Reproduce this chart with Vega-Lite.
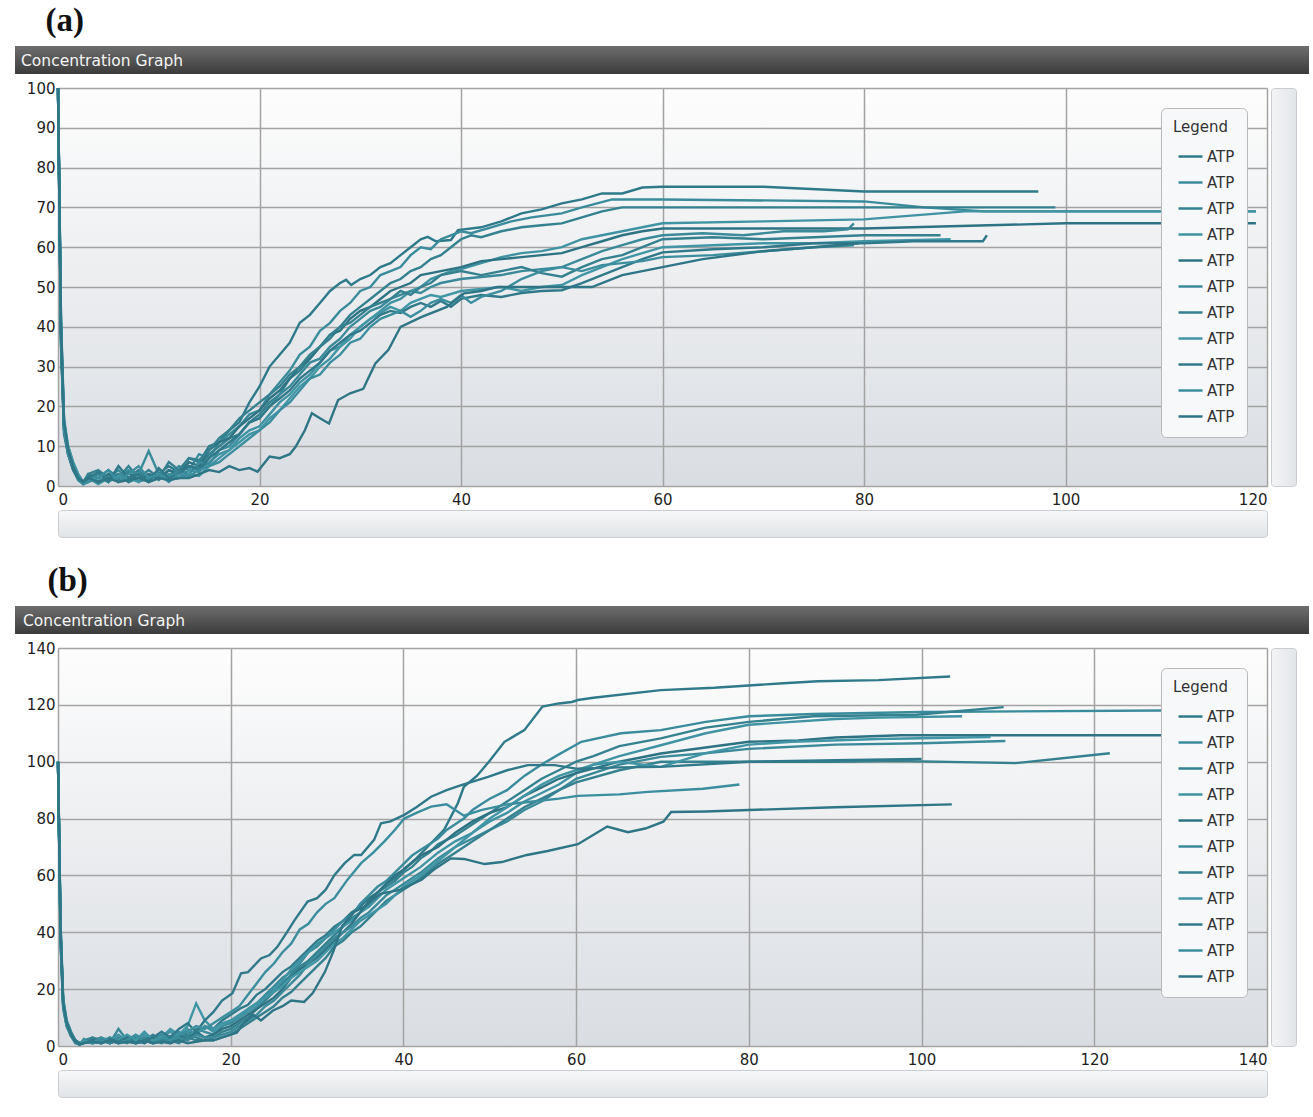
{
"$schema": "https://vega.github.io/schema/vega-lite/v6.json",
"background": "white",
"padding": {"left": 14, "top": 5, "right": 5, "bottom": 5},
"config": {
  "font": "DejaVu Sans",
  "view": {"stroke": null},
  "axis": {"labelFont": "DejaVu Sans", "labelFontSize": 15, "labelColor": "#1e1e1e", "gridColor": "#a3a3a3", "gridWidth": 1.5, "gridOpacity": 1, "domain": false, "ticks": false, "tickSize": 0},
  "axisX": {"labelPadding": 6},
  "axisY": {"labelPadding": 3, "minExtent": 43, "maxExtent": 43}
},
"datasets": {
"a": [
{"s":"a01","t":0,"v":100},{"s":"a01","t":0.3,"v":38},{"s":"a01","t":0.6,"v":15},{"s":"a01","t":1,"v":9},{"s":"a01","t":1.5,"v":5},{"s":"a01","t":2,"v":2},{"s":"a01","t":2.5,"v":0.5},{"s":"a01","t":3,"v":2},{"s":"a01","t":4,"v":1},{"s":"a01","t":5,"v":3},{"s":"a01","t":6,"v":1.5},{"s":"a01","t":7,"v":2},{"s":"a01","t":8,"v":4},{"s":"a01","t":9,"v":1.5},{"s":"a01","t":10,"v":3},{"s":"a01","t":11,"v":5},{"s":"a01","t":12,"v":3.5},{"s":"a01","t":13,"v":7},{"s":"a01","t":14,"v":6},{"s":"a01","t":15,"v":10},{"s":"a01","t":16,"v":11},{"s":"a01","t":17,"v":14},{"s":"a01","t":18,"v":16},{"s":"a01","t":19,"v":21},{"s":"a01","t":20,"v":25},{"s":"a01","t":21,"v":30},{"s":"a01","t":22,"v":33},{"s":"a01","t":23,"v":36},{"s":"a01","t":24,"v":41},{"s":"a01","t":25,"v":43},{"s":"a01","t":26,"v":46},{"s":"a01","t":27,"v":49},{"s":"a01","t":28,"v":51},{"s":"a01","t":28.6,"v":51.8},{"s":"a01","t":29.1,"v":50.5},{"s":"a01","t":30,"v":52},{"s":"a01","t":31,"v":53},{"s":"a01","t":32,"v":55},{"s":"a01","t":33,"v":56},{"s":"a01","t":34,"v":58},{"s":"a01","t":35,"v":60},{"s":"a01","t":36,"v":62},{"s":"a01","t":36.7,"v":62.6},{"s":"a01","t":37.5,"v":61.5},{"s":"a01","t":39,"v":61.8},{"s":"a01","t":39.7,"v":64.3},{"s":"a01","t":42,"v":65},{"s":"a01","t":44,"v":66.5},{"s":"a01","t":46,"v":68.5},{"s":"a01","t":48,"v":69.5},{"s":"a01","t":50,"v":71},{"s":"a01","t":52,"v":72},{"s":"a01","t":54,"v":73.5},{"s":"a01","t":56,"v":73.5},{"s":"a01","t":58,"v":75},{"s":"a01","t":60,"v":75.2},{"s":"a01","t":70,"v":75.2},{"s":"a01","t":80,"v":74},{"s":"a01","t":97.3,"v":74},
{"s":"a02","t":0,"v":100},{"s":"a02","t":0.3,"v":42},{"s":"a02","t":0.6,"v":17},{"s":"a02","t":1,"v":10},{"s":"a02","t":1.5,"v":6},{"s":"a02","t":2,"v":3},{"s":"a02","t":2.5,"v":1},{"s":"a02","t":3,"v":1.5},{"s":"a02","t":4,"v":3},{"s":"a02","t":5,"v":2},{"s":"a02","t":6,"v":4},{"s":"a02","t":7,"v":1.5},{"s":"a02","t":8,"v":3},{"s":"a02","t":9,"v":2},{"s":"a02","t":10,"v":4},{"s":"a02","t":11,"v":2.5},{"s":"a02","t":12,"v":5},{"s":"a02","t":13,"v":4},{"s":"a02","t":14,"v":8},{"s":"a02","t":15,"v":7},{"s":"a02","t":16,"v":11},{"s":"a02","t":17,"v":13},{"s":"a02","t":18,"v":15},{"s":"a02","t":19,"v":18},{"s":"a02","t":20,"v":19},{"s":"a02","t":21,"v":23},{"s":"a02","t":22,"v":26},{"s":"a02","t":23,"v":29},{"s":"a02","t":24,"v":33},{"s":"a02","t":25,"v":35},{"s":"a02","t":26,"v":39},{"s":"a02","t":27,"v":41},{"s":"a02","t":28,"v":44},{"s":"a02","t":29,"v":46},{"s":"a02","t":30,"v":49},{"s":"a02","t":31,"v":50},{"s":"a02","t":32,"v":53},{"s":"a02","t":33,"v":54},{"s":"a02","t":34,"v":55},{"s":"a02","t":35,"v":58},{"s":"a02","t":36,"v":60},{"s":"a02","t":37,"v":59.5},{"s":"a02","t":38,"v":62},{"s":"a02","t":39,"v":63},{"s":"a02","t":40,"v":64},{"s":"a02","t":41,"v":63.5},{"s":"a02","t":43,"v":65},{"s":"a02","t":45,"v":66.5},{"s":"a02","t":47,"v":67.5},{"s":"a02","t":50,"v":68.5},{"s":"a02","t":52,"v":70},{"s":"a02","t":55,"v":72},{"s":"a02","t":60,"v":72},{"s":"a02","t":80,"v":71.5},{"s":"a02","t":86,"v":70},{"s":"a02","t":92,"v":69},{"s":"a02","t":118.9,"v":69},
{"s":"a03","t":0,"v":100},{"s":"a03","t":0.3,"v":36},{"s":"a03","t":0.6,"v":14},{"s":"a03","t":1,"v":8},{"s":"a03","t":1.5,"v":4},{"s":"a03","t":2,"v":1.5},{"s":"a03","t":2.5,"v":0.5},{"s":"a03","t":3,"v":3},{"s":"a03","t":4,"v":2},{"s":"a03","t":5,"v":4},{"s":"a03","t":6,"v":2},{"s":"a03","t":7,"v":5},{"s":"a03","t":8,"v":2},{"s":"a03","t":9,"v":3},{"s":"a03","t":10,"v":1.5},{"s":"a03","t":11,"v":4},{"s":"a03","t":12,"v":3},{"s":"a03","t":13,"v":5},{"s":"a03","t":14,"v":4.5},{"s":"a03","t":15,"v":8},{"s":"a03","t":16,"v":10},{"s":"a03","t":17,"v":12},{"s":"a03","t":18,"v":13},{"s":"a03","t":19,"v":16},{"s":"a03","t":20,"v":18},{"s":"a03","t":21,"v":21},{"s":"a03","t":22,"v":23},{"s":"a03","t":23,"v":27},{"s":"a03","t":24,"v":29},{"s":"a03","t":25,"v":32},{"s":"a03","t":26,"v":35},{"s":"a03","t":27,"v":37},{"s":"a03","t":28,"v":40},{"s":"a03","t":29,"v":43},{"s":"a03","t":30,"v":45},{"s":"a03","t":31,"v":47},{"s":"a03","t":32,"v":49},{"s":"a03","t":33,"v":51},{"s":"a03","t":34,"v":52},{"s":"a03","t":35,"v":54},{"s":"a03","t":36,"v":55},{"s":"a03","t":37,"v":57},{"s":"a03","t":38,"v":58},{"s":"a03","t":39,"v":60},{"s":"a03","t":40,"v":62},{"s":"a03","t":41,"v":63},{"s":"a03","t":42,"v":62.5},{"s":"a03","t":44,"v":64},{"s":"a03","t":46,"v":65},{"s":"a03","t":48,"v":65.5},{"s":"a03","t":50,"v":66},{"s":"a03","t":52,"v":67.5},{"s":"a03","t":54,"v":69},{"s":"a03","t":56,"v":70},{"s":"a03","t":99,"v":70},
{"s":"a04","t":0,"v":100},{"s":"a04","t":0.3,"v":40},{"s":"a04","t":0.6,"v":16},{"s":"a04","t":1,"v":9},{"s":"a04","t":1.5,"v":5},{"s":"a04","t":2,"v":2},{"s":"a04","t":2.5,"v":1},{"s":"a04","t":3,"v":2},{"s":"a04","t":4,"v":0.5},{"s":"a04","t":5,"v":2},{"s":"a04","t":6,"v":3},{"s":"a04","t":7,"v":1},{"s":"a04","t":8,"v":2.5},{"s":"a04","t":9,"v":1},{"s":"a04","t":10,"v":2},{"s":"a04","t":11,"v":3},{"s":"a04","t":12,"v":2},{"s":"a04","t":13,"v":4},{"s":"a04","t":14,"v":3.5},{"s":"a04","t":15,"v":6},{"s":"a04","t":16,"v":8},{"s":"a04","t":17,"v":9},{"s":"a04","t":18,"v":12},{"s":"a04","t":19,"v":14},{"s":"a04","t":20,"v":15},{"s":"a04","t":21,"v":18},{"s":"a04","t":22,"v":21},{"s":"a04","t":23,"v":23},{"s":"a04","t":24,"v":26},{"s":"a04","t":25,"v":28},{"s":"a04","t":26,"v":31},{"s":"a04","t":27,"v":34},{"s":"a04","t":28,"v":35},{"s":"a04","t":29,"v":38},{"s":"a04","t":30,"v":40},{"s":"a04","t":31,"v":42},{"s":"a04","t":32,"v":44},{"s":"a04","t":33,"v":46},{"s":"a04","t":34,"v":47},{"s":"a04","t":35,"v":49},{"s":"a04","t":36,"v":50},{"s":"a04","t":37,"v":52},{"s":"a04","t":38,"v":53},{"s":"a04","t":39,"v":54},{"s":"a04","t":40,"v":54.5},{"s":"a04","t":42,"v":56},{"s":"a04","t":44,"v":57.5},{"s":"a04","t":46,"v":58.5},{"s":"a04","t":48,"v":59},{"s":"a04","t":50,"v":60},{"s":"a04","t":52,"v":62},{"s":"a04","t":54,"v":63},{"s":"a04","t":56,"v":64},{"s":"a04","t":58,"v":65},{"s":"a04","t":60,"v":66},{"s":"a04","t":70,"v":66.5},{"s":"a04","t":80,"v":67},{"s":"a04","t":85,"v":68},{"s":"a04","t":90,"v":69},{"s":"a04","t":118.9,"v":69},
{"s":"a05","t":0,"v":100},{"s":"a05","t":0.3,"v":35},{"s":"a05","t":0.6,"v":13},{"s":"a05","t":1,"v":8},{"s":"a05","t":1.5,"v":4},{"s":"a05","t":2,"v":2},{"s":"a05","t":2.5,"v":1},{"s":"a05","t":3,"v":2.5},{"s":"a05","t":4,"v":1},{"s":"a05","t":5,"v":3},{"s":"a05","t":6,"v":2},{"s":"a05","t":7,"v":3.5},{"s":"a05","t":8,"v":1},{"s":"a05","t":9,"v":3},{"s":"a05","t":10,"v":2},{"s":"a05","t":11,"v":4},{"s":"a05","t":12,"v":3},{"s":"a05","t":13,"v":6},{"s":"a05","t":14,"v":5},{"s":"a05","t":15,"v":9},{"s":"a05","t":16,"v":11},{"s":"a05","t":17,"v":12},{"s":"a05","t":18,"v":15},{"s":"a05","t":19,"v":17},{"s":"a05","t":20,"v":19},{"s":"a05","t":21,"v":22},{"s":"a05","t":22,"v":24},{"s":"a05","t":23,"v":27},{"s":"a05","t":24,"v":30},{"s":"a05","t":25,"v":32},{"s":"a05","t":26,"v":35},{"s":"a05","t":27,"v":38},{"s":"a05","t":28,"v":39},{"s":"a05","t":29,"v":42},{"s":"a05","t":30,"v":44},{"s":"a05","t":31,"v":45},{"s":"a05","t":32,"v":47},{"s":"a05","t":33,"v":49},{"s":"a05","t":34,"v":50},{"s":"a05","t":35,"v":51},{"s":"a05","t":36,"v":53},{"s":"a05","t":37,"v":53.5},{"s":"a05","t":38,"v":54},{"s":"a05","t":40,"v":55},{"s":"a05","t":42,"v":56.5},{"s":"a05","t":44,"v":57},{"s":"a05","t":46,"v":57.5},{"s":"a05","t":48,"v":58},{"s":"a05","t":50,"v":58.5},{"s":"a05","t":52,"v":60},{"s":"a05","t":54,"v":61.5},{"s":"a05","t":56,"v":63},{"s":"a05","t":58,"v":64},{"s":"a05","t":60,"v":64.7},{"s":"a05","t":80,"v":64.7},{"s":"a05","t":100,"v":66},{"s":"a05","t":118.9,"v":66},
{"s":"a06","t":0,"v":100},{"s":"a06","t":0.3,"v":39},{"s":"a06","t":0.6,"v":15},{"s":"a06","t":1,"v":8},{"s":"a06","t":1.5,"v":5},{"s":"a06","t":2,"v":1.5},{"s":"a06","t":2.5,"v":0.5},{"s":"a06","t":3,"v":1},{"s":"a06","t":4,"v":3},{"s":"a06","t":5,"v":1.5},{"s":"a06","t":6,"v":2},{"s":"a06","t":7,"v":4},{"s":"a06","t":8,"v":3},{"s":"a06","t":9,"v":8.8},{"s":"a06","t":10,"v":3},{"s":"a06","t":11,"v":2},{"s":"a06","t":12,"v":4},{"s":"a06","t":13,"v":3},{"s":"a06","t":14,"v":6},{"s":"a06","t":15,"v":5.5},{"s":"a06","t":16,"v":9},{"s":"a06","t":17,"v":10},{"s":"a06","t":18,"v":13},{"s":"a06","t":19,"v":16},{"s":"a06","t":20,"v":17},{"s":"a06","t":21,"v":20},{"s":"a06","t":22,"v":23},{"s":"a06","t":23,"v":25},{"s":"a06","t":24,"v":28},{"s":"a06","t":25,"v":31},{"s":"a06","t":26,"v":32},{"s":"a06","t":27,"v":35},{"s":"a06","t":28,"v":37},{"s":"a06","t":29,"v":40},{"s":"a06","t":30,"v":42},{"s":"a06","t":31,"v":44},{"s":"a06","t":32,"v":45},{"s":"a06","t":33,"v":47},{"s":"a06","t":34,"v":48},{"s":"a06","t":35,"v":49},{"s":"a06","t":36,"v":48.5},{"s":"a06","t":37,"v":50},{"s":"a06","t":38,"v":51},{"s":"a06","t":40,"v":52},{"s":"a06","t":42,"v":52.5},{"s":"a06","t":44,"v":53},{"s":"a06","t":46,"v":54},{"s":"a06","t":48,"v":54.5},{"s":"a06","t":50,"v":55},{"s":"a06","t":52,"v":57},{"s":"a06","t":54,"v":59},{"s":"a06","t":56,"v":60.5},{"s":"a06","t":58,"v":62},{"s":"a06","t":60,"v":63},{"s":"a06","t":64,"v":63.5},{"s":"a06","t":68,"v":63},{"s":"a06","t":72,"v":64},{"s":"a06","t":76,"v":64},{"s":"a06","t":78.4,"v":64.5},{"s":"a06","t":79,"v":66},
{"s":"a07","t":0,"v":100},{"s":"a07","t":0.3,"v":37},{"s":"a07","t":0.6,"v":14},{"s":"a07","t":1,"v":9},{"s":"a07","t":1.5,"v":5},{"s":"a07","t":2,"v":2.5},{"s":"a07","t":2.5,"v":1},{"s":"a07","t":3,"v":3},{"s":"a07","t":4,"v":4},{"s":"a07","t":5,"v":2},{"s":"a07","t":6,"v":3},{"s":"a07","t":7,"v":1},{"s":"a07","t":8,"v":2},{"s":"a07","t":9,"v":4},{"s":"a07","t":10,"v":2},{"s":"a07","t":11,"v":6},{"s":"a07","t":12,"v":4},{"s":"a07","t":13,"v":7},{"s":"a07","t":14,"v":6.5},{"s":"a07","t":15,"v":9},{"s":"a07","t":16,"v":12},{"s":"a07","t":17,"v":14},{"s":"a07","t":18,"v":17},{"s":"a07","t":19,"v":19},{"s":"a07","t":20,"v":21},{"s":"a07","t":21,"v":23},{"s":"a07","t":22,"v":25},{"s":"a07","t":23,"v":28},{"s":"a07","t":24,"v":30},{"s":"a07","t":25,"v":33},{"s":"a07","t":26,"v":35},{"s":"a07","t":27,"v":38},{"s":"a07","t":28,"v":40},{"s":"a07","t":29,"v":41},{"s":"a07","t":30,"v":43},{"s":"a07","t":31,"v":45},{"s":"a07","t":32,"v":46},{"s":"a07","t":33,"v":47},{"s":"a07","t":34,"v":49},{"s":"a07","t":35,"v":48},{"s":"a07","t":36,"v":50},{"s":"a07","t":37,"v":51},{"s":"a07","t":38,"v":53},{"s":"a07","t":40,"v":54},{"s":"a07","t":42,"v":53},{"s":"a07","t":44,"v":54},{"s":"a07","t":46,"v":55},{"s":"a07","t":48,"v":53.5},{"s":"a07","t":50,"v":52.6},{"s":"a07","t":52,"v":55},{"s":"a07","t":54,"v":57},{"s":"a07","t":56,"v":58},{"s":"a07","t":58,"v":60},{"s":"a07","t":60,"v":62},{"s":"a07","t":65,"v":62.5},{"s":"a07","t":70,"v":62},{"s":"a07","t":75,"v":62.5},{"s":"a07","t":80,"v":63},{"s":"a07","t":87.6,"v":63},
{"s":"a08","t":0,"v":100},{"s":"a08","t":0.3,"v":41},{"s":"a08","t":0.6,"v":16},{"s":"a08","t":1,"v":10},{"s":"a08","t":1.5,"v":6},{"s":"a08","t":2,"v":3},{"s":"a08","t":2.5,"v":1},{"s":"a08","t":3,"v":1.5},{"s":"a08","t":4,"v":2},{"s":"a08","t":5,"v":1},{"s":"a08","t":6,"v":2.5},{"s":"a08","t":7,"v":2},{"s":"a08","t":8,"v":1},{"s":"a08","t":9,"v":2},{"s":"a08","t":10,"v":3},{"s":"a08","t":11,"v":1.5},{"s":"a08","t":12,"v":2},{"s":"a08","t":13,"v":3},{"s":"a08","t":14,"v":2.5},{"s":"a08","t":15,"v":5},{"s":"a08","t":16,"v":7},{"s":"a08","t":17,"v":9},{"s":"a08","t":18,"v":11},{"s":"a08","t":19,"v":13},{"s":"a08","t":20,"v":14},{"s":"a08","t":21,"v":17},{"s":"a08","t":22,"v":19},{"s":"a08","t":23,"v":22},{"s":"a08","t":24,"v":25},{"s":"a08","t":25,"v":27},{"s":"a08","t":26,"v":30},{"s":"a08","t":27,"v":32},{"s":"a08","t":28,"v":35},{"s":"a08","t":29,"v":37},{"s":"a08","t":30,"v":40},{"s":"a08","t":31,"v":42},{"s":"a08","t":32,"v":43.5},{"s":"a08","t":33,"v":45},{"s":"a08","t":34,"v":44},{"s":"a08","t":35,"v":46},{"s":"a08","t":36,"v":47},{"s":"a08","t":37,"v":48},{"s":"a08","t":38,"v":47.5},{"s":"a08","t":40,"v":49},{"s":"a08","t":42,"v":49.5},{"s":"a08","t":44,"v":50},{"s":"a08","t":46,"v":49},{"s":"a08","t":48,"v":50},{"s":"a08","t":50,"v":50.5},{"s":"a08","t":52,"v":53},{"s":"a08","t":54,"v":55},{"s":"a08","t":56,"v":57},{"s":"a08","t":58,"v":58.5},{"s":"a08","t":60,"v":60},{"s":"a08","t":65,"v":60.5},{"s":"a08","t":70,"v":61},{"s":"a08","t":75,"v":61},{"s":"a08","t":80,"v":61.5},{"s":"a08","t":88.6,"v":62},
{"s":"a09","t":0,"v":100},{"s":"a09","t":0.3,"v":36},{"s":"a09","t":0.6,"v":15},{"s":"a09","t":1,"v":9},{"s":"a09","t":1.5,"v":4.5},{"s":"a09","t":2,"v":2},{"s":"a09","t":2.5,"v":1},{"s":"a09","t":3,"v":2},{"s":"a09","t":4,"v":3.5},{"s":"a09","t":5,"v":1},{"s":"a09","t":6,"v":5},{"s":"a09","t":7,"v":2},{"s":"a09","t":8,"v":3},{"s":"a09","t":9,"v":1},{"s":"a09","t":10,"v":4.5},{"s":"a09","t":11,"v":2},{"s":"a09","t":12,"v":3},{"s":"a09","t":13,"v":5},{"s":"a09","t":14,"v":4},{"s":"a09","t":15,"v":7},{"s":"a09","t":16,"v":9},{"s":"a09","t":17,"v":11},{"s":"a09","t":18,"v":13},{"s":"a09","t":19,"v":16},{"s":"a09","t":20,"v":17},{"s":"a09","t":21,"v":20},{"s":"a09","t":22,"v":22},{"s":"a09","t":23,"v":24},{"s":"a09","t":24,"v":27},{"s":"a09","t":25,"v":29},{"s":"a09","t":26,"v":31},{"s":"a09","t":27,"v":34},{"s":"a09","t":28,"v":36},{"s":"a09","t":29,"v":38},{"s":"a09","t":30,"v":39},{"s":"a09","t":31,"v":41},{"s":"a09","t":32,"v":43},{"s":"a09","t":33,"v":44},{"s":"a09","t":34,"v":43.5},{"s":"a09","t":35,"v":45},{"s":"a09","t":36,"v":46},{"s":"a09","t":37,"v":45},{"s":"a09","t":38,"v":46.5},{"s":"a09","t":39,"v":45},{"s":"a09","t":40,"v":47},{"s":"a09","t":42,"v":48},{"s":"a09","t":44,"v":47.5},{"s":"a09","t":46,"v":48.5},{"s":"a09","t":48,"v":49},{"s":"a09","t":50,"v":49.2},{"s":"a09","t":52,"v":51},{"s":"a09","t":54,"v":53},{"s":"a09","t":56,"v":55},{"s":"a09","t":58,"v":57},{"s":"a09","t":60,"v":58.7},{"s":"a09","t":65,"v":59.5},{"s":"a09","t":70,"v":60},{"s":"a09","t":75,"v":61},{"s":"a09","t":80,"v":61},{"s":"a09","t":85,"v":61.5},{"s":"a09","t":91.8,"v":61.5},{"s":"a09","t":92.2,"v":63},
{"s":"a10","t":0,"v":100},{"s":"a10","t":0.3,"v":38},{"s":"a10","t":0.6,"v":14},{"s":"a10","t":1,"v":8},{"s":"a10","t":1.5,"v":5},{"s":"a10","t":2,"v":2},{"s":"a10","t":2.5,"v":0.5},{"s":"a10","t":3,"v":1},{"s":"a10","t":4,"v":2},{"s":"a10","t":5,"v":4},{"s":"a10","t":6,"v":1},{"s":"a10","t":7,"v":3},{"s":"a10","t":8,"v":5},{"s":"a10","t":9,"v":2},{"s":"a10","t":10,"v":3},{"s":"a10","t":11,"v":1},{"s":"a10","t":12,"v":3},{"s":"a10","t":13,"v":2.5},{"s":"a10","t":14,"v":4},{"s":"a10","t":15,"v":5},{"s":"a10","t":16,"v":6},{"s":"a10","t":17,"v":8},{"s":"a10","t":18,"v":10},{"s":"a10","t":19,"v":12},{"s":"a10","t":20,"v":14},{"s":"a10","t":21,"v":16},{"s":"a10","t":22,"v":19},{"s":"a10","t":23,"v":21},{"s":"a10","t":24,"v":24},{"s":"a10","t":25,"v":27},{"s":"a10","t":26,"v":28},{"s":"a10","t":27,"v":31},{"s":"a10","t":28,"v":33},{"s":"a10","t":29,"v":36},{"s":"a10","t":30,"v":37},{"s":"a10","t":31,"v":40},{"s":"a10","t":32,"v":42},{"s":"a10","t":33,"v":43},{"s":"a10","t":34,"v":44},{"s":"a10","t":35,"v":42.5},{"s":"a10","t":36,"v":44},{"s":"a10","t":37,"v":46},{"s":"a10","t":38,"v":47},{"s":"a10","t":39,"v":46},{"s":"a10","t":40,"v":48},{"s":"a10","t":41,"v":46},{"s":"a10","t":42,"v":47.5},{"s":"a10","t":44,"v":49},{"s":"a10","t":46,"v":52},{"s":"a10","t":48,"v":54},{"s":"a10","t":50,"v":55},{"s":"a10","t":52,"v":54},{"s":"a10","t":54,"v":55.5},{"s":"a10","t":56,"v":56},{"s":"a10","t":58,"v":56.5},{"s":"a10","t":60,"v":57.5},{"s":"a10","t":65,"v":58},{"s":"a10","t":70,"v":59},{"s":"a10","t":75,"v":60},{"s":"a10","t":79,"v":60.5},
{"s":"a11","t":0,"v":100},{"s":"a11","t":0.3,"v":40},{"s":"a11","t":0.6,"v":16},{"s":"a11","t":1,"v":9},{"s":"a11","t":1.5,"v":5},{"s":"a11","t":2,"v":2},{"s":"a11","t":2.5,"v":1},{"s":"a11","t":3,"v":2},{"s":"a11","t":4,"v":1},{"s":"a11","t":5,"v":2},{"s":"a11","t":6,"v":1},{"s":"a11","t":7,"v":1.5},{"s":"a11","t":8,"v":2},{"s":"a11","t":9,"v":1},{"s":"a11","t":10,"v":2},{"s":"a11","t":11,"v":1.5},{"s":"a11","t":12,"v":2},{"s":"a11","t":13,"v":2},{"s":"a11","t":14,"v":3},{"s":"a11","t":15,"v":4},{"s":"a11","t":16,"v":3.5},{"s":"a11","t":17,"v":5},{"s":"a11","t":18,"v":4},{"s":"a11","t":19,"v":4.5},{"s":"a11","t":19.8,"v":3.6},{"s":"a11","t":21,"v":7.4},{"s":"a11","t":22,"v":7},{"s":"a11","t":23,"v":8},{"s":"a11","t":23.6,"v":9.9},{"s":"a11","t":24.5,"v":14},{"s":"a11","t":25.2,"v":18.3},{"s":"a11","t":26,"v":17},{"s":"a11","t":26.9,"v":15.7},{"s":"a11","t":27.8,"v":21.6},{"s":"a11","t":29,"v":23.3},{"s":"a11","t":30.3,"v":24.4},{"s":"a11","t":30.7,"v":26.6},{"s":"a11","t":31.5,"v":30.8},{"s":"a11","t":32.8,"v":34.2},{"s":"a11","t":34,"v":40},{"s":"a11","t":36.1,"v":42.5},{"s":"a11","t":38.6,"v":45},{"s":"a11","t":40.3,"v":48.4},{"s":"a11","t":42,"v":49},{"s":"a11","t":43.6,"v":50},{"s":"a11","t":46,"v":50},{"s":"a11","t":50,"v":50},{"s":"a11","t":53,"v":50},{"s":"a11","t":56,"v":53},{"s":"a11","t":60,"v":55},{"s":"a11","t":64,"v":57},{"s":"a11","t":70,"v":59},{"s":"a11","t":75,"v":60},{"s":"a11","t":79.5,"v":61}
],
"b": [
{"s":"b01","t":0,"v":100},{"s":"b01","t":0.3,"v":42},{"s":"b01","t":0.6,"v":16},{"s":"b01","t":1,"v":8},{"s":"b01","t":1.5,"v":4},{"s":"b01","t":2,"v":1.5},{"s":"b01","t":2.5,"v":0.5},{"s":"b01","t":3,"v":1.5},{"s":"b01","t":4,"v":2},{"s":"b01","t":5,"v":1},{"s":"b01","t":6,"v":2.5},{"s":"b01","t":7,"v":1.5},{"s":"b01","t":8,"v":2.5},{"s":"b01","t":9,"v":1},{"s":"b01","t":10,"v":1.5},{"s":"b01","t":11,"v":3},{"s":"b01","t":12,"v":2},{"s":"b01","t":13,"v":3.5},{"s":"b01","t":14,"v":2},{"s":"b01","t":15,"v":5},{"s":"b01","t":16,"v":4},{"s":"b01","t":17,"v":7},{"s":"b01","t":18,"v":6},{"s":"b01","t":19,"v":9},{"s":"b01","t":20,"v":11},{"s":"b01","t":21,"v":13},{"s":"b01","t":22,"v":14.5},{"s":"b01","t":23,"v":18},{"s":"b01","t":24,"v":20},{"s":"b01","t":25,"v":23},{"s":"b01","t":26,"v":26},{"s":"b01","t":27,"v":28},{"s":"b01","t":28,"v":31},{"s":"b01","t":29,"v":34},{"s":"b01","t":30,"v":37},{"s":"b01","t":31,"v":39},{"s":"b01","t":32,"v":42},{"s":"b01","t":33,"v":44},{"s":"b01","t":34,"v":47},{"s":"b01","t":35,"v":49},{"s":"b01","t":36,"v":52},{"s":"b01","t":37,"v":54},{"s":"b01","t":38,"v":57},{"s":"b01","t":39,"v":59},{"s":"b01","t":40,"v":62},{"s":"b01","t":41.5,"v":66},{"s":"b01","t":42.8,"v":70.1},{"s":"b01","t":44.7,"v":76},{"s":"b01","t":46.3,"v":85.4},{"s":"b01","t":47,"v":91.2},{"s":"b01","t":48.5,"v":95},{"s":"b01","t":49.9,"v":100},{"s":"b01","t":51.7,"v":107},{"s":"b01","t":54,"v":111.1},{"s":"b01","t":56.1,"v":119.4},{"s":"b01","t":58,"v":120.5},{"s":"b01","t":59.5,"v":121},{"s":"b01","t":60.2,"v":121.7},{"s":"b01","t":62,"v":122.5},{"s":"b01","t":69.8,"v":125.2},{"s":"b01","t":76,"v":126},{"s":"b01","t":84,"v":127.6},{"s":"b01","t":88,"v":128.3},{"s":"b01","t":95,"v":128.7},{"s":"b01","t":103.3,"v":130},
{"s":"b02","t":0,"v":100},{"s":"b02","t":0.3,"v":38},{"s":"b02","t":0.6,"v":14},{"s":"b02","t":1,"v":7},{"s":"b02","t":1.5,"v":3.5},{"s":"b02","t":2,"v":1},{"s":"b02","t":2.5,"v":0.5},{"s":"b02","t":3,"v":1},{"s":"b02","t":4,"v":2.5},{"s":"b02","t":5,"v":1.5},{"s":"b02","t":6,"v":3},{"s":"b02","t":7,"v":1},{"s":"b02","t":8,"v":2},{"s":"b02","t":9,"v":3},{"s":"b02","t":10,"v":1},{"s":"b02","t":11,"v":2.5},{"s":"b02","t":12,"v":4},{"s":"b02","t":13,"v":2},{"s":"b02","t":14,"v":5},{"s":"b02","t":15,"v":3},{"s":"b02","t":16,"v":6},{"s":"b02","t":17,"v":5},{"s":"b02","t":18,"v":4},{"s":"b02","t":19,"v":7},{"s":"b02","t":20,"v":8},{"s":"b02","t":21,"v":10},{"s":"b02","t":22,"v":13},{"s":"b02","t":23,"v":15},{"s":"b02","t":24,"v":18},{"s":"b02","t":25,"v":21},{"s":"b02","t":26,"v":24},{"s":"b02","t":27,"v":26},{"s":"b02","t":28,"v":29},{"s":"b02","t":29,"v":33},{"s":"b02","t":30,"v":35},{"s":"b02","t":31,"v":38},{"s":"b02","t":32,"v":41},{"s":"b02","t":33,"v":44},{"s":"b02","t":34,"v":46},{"s":"b02","t":35,"v":50},{"s":"b02","t":36,"v":53},{"s":"b02","t":37,"v":56},{"s":"b02","t":38,"v":58},{"s":"b02","t":39,"v":61},{"s":"b02","t":40,"v":64},{"s":"b02","t":41,"v":67},{"s":"b02","t":42,"v":69},{"s":"b02","t":43,"v":71},{"s":"b02","t":44,"v":73},{"s":"b02","t":45,"v":76},{"s":"b02","t":46,"v":78},{"s":"b02","t":47,"v":80},{"s":"b02","t":48,"v":83},{"s":"b02","t":49,"v":85},{"s":"b02","t":50,"v":87},{"s":"b02","t":52,"v":90},{"s":"b02","t":54,"v":95},{"s":"b02","t":56,"v":99},{"s":"b02","t":57.9,"v":102.4},{"s":"b02","t":60.6,"v":107},{"s":"b02","t":65.2,"v":110},{"s":"b02","t":69.8,"v":111.1},{"s":"b02","t":75,"v":114},{"s":"b02","t":80,"v":116},{"s":"b02","t":87.5,"v":116.8},{"s":"b02","t":100,"v":117.5},{"s":"b02","t":128,"v":118},
{"s":"b03","t":0,"v":100},{"s":"b03","t":0.3,"v":40},{"s":"b03","t":0.6,"v":15},{"s":"b03","t":1,"v":8},{"s":"b03","t":1.5,"v":4},{"s":"b03","t":2,"v":2},{"s":"b03","t":2.5,"v":1},{"s":"b03","t":3,"v":2},{"s":"b03","t":4,"v":1},{"s":"b03","t":5,"v":2},{"s":"b03","t":6,"v":1},{"s":"b03","t":7,"v":3},{"s":"b03","t":8,"v":2},{"s":"b03","t":9,"v":1.5},{"s":"b03","t":10,"v":3},{"s":"b03","t":11,"v":2},{"s":"b03","t":12,"v":1},{"s":"b03","t":13,"v":3},{"s":"b03","t":14,"v":2.5},{"s":"b03","t":15,"v":4},{"s":"b03","t":16,"v":3},{"s":"b03","t":17,"v":2},{"s":"b03","t":18,"v":3},{"s":"b03","t":19,"v":5},{"s":"b03","t":20,"v":6},{"s":"b03","t":21,"v":8},{"s":"b03","t":22,"v":10},{"s":"b03","t":23,"v":13},{"s":"b03","t":24,"v":16},{"s":"b03","t":25,"v":19},{"s":"b03","t":26,"v":22},{"s":"b03","t":27,"v":25},{"s":"b03","t":28,"v":28},{"s":"b03","t":29,"v":30},{"s":"b03","t":30,"v":33},{"s":"b03","t":31,"v":36},{"s":"b03","t":32,"v":39},{"s":"b03","t":33,"v":42},{"s":"b03","t":34,"v":45},{"s":"b03","t":35,"v":47},{"s":"b03","t":36,"v":50},{"s":"b03","t":37,"v":54},{"s":"b03","t":38,"v":56},{"s":"b03","t":39,"v":58},{"s":"b03","t":40,"v":61},{"s":"b03","t":41,"v":63},{"s":"b03","t":42,"v":66},{"s":"b03","t":43,"v":68},{"s":"b03","t":44,"v":71},{"s":"b03","t":46,"v":74},{"s":"b03","t":48,"v":78},{"s":"b03","t":50,"v":82},{"s":"b03","t":52,"v":86},{"s":"b03","t":54,"v":90},{"s":"b03","t":56,"v":94},{"s":"b03","t":58,"v":97},{"s":"b03","t":60,"v":100},{"s":"b03","t":62,"v":102},{"s":"b03","t":65,"v":105.5},{"s":"b03","t":69.8,"v":108.2},{"s":"b03","t":75,"v":112},{"s":"b03","t":80,"v":114},{"s":"b03","t":87.5,"v":116},{"s":"b03","t":99.4,"v":116.5},{"s":"b03","t":109.5,"v":119.2},
{"s":"b04","t":0,"v":100},{"s":"b04","t":0.3,"v":36},{"s":"b04","t":0.6,"v":13},{"s":"b04","t":1,"v":7},{"s":"b04","t":1.5,"v":4},{"s":"b04","t":2,"v":1.5},{"s":"b04","t":2.5,"v":0.5},{"s":"b04","t":3,"v":2},{"s":"b04","t":4,"v":3},{"s":"b04","t":5,"v":1},{"s":"b04","t":6,"v":2},{"s":"b04","t":7,"v":4},{"s":"b04","t":8,"v":1.5},{"s":"b04","t":9,"v":2},{"s":"b04","t":10,"v":4},{"s":"b04","t":11,"v":1.5},{"s":"b04","t":12,"v":3},{"s":"b04","t":13,"v":5},{"s":"b04","t":14,"v":3},{"s":"b04","t":15,"v":6},{"s":"b04","t":16,"v":4},{"s":"b04","t":17,"v":7},{"s":"b04","t":18,"v":5},{"s":"b04","t":19,"v":7},{"s":"b04","t":20,"v":9},{"s":"b04","t":21,"v":10},{"s":"b04","t":22,"v":12},{"s":"b04","t":23,"v":14},{"s":"b04","t":24,"v":17},{"s":"b04","t":25,"v":20},{"s":"b04","t":26,"v":23},{"s":"b04","t":27,"v":27},{"s":"b04","t":28,"v":30},{"s":"b04","t":29,"v":33},{"s":"b04","t":30,"v":36},{"s":"b04","t":31,"v":38},{"s":"b04","t":32,"v":40},{"s":"b04","t":33,"v":42},{"s":"b04","t":34,"v":44},{"s":"b04","t":35,"v":47},{"s":"b04","t":36,"v":49},{"s":"b04","t":37,"v":52},{"s":"b04","t":38,"v":55},{"s":"b04","t":39,"v":57},{"s":"b04","t":40,"v":59},{"s":"b04","t":42,"v":63},{"s":"b04","t":44,"v":68},{"s":"b04","t":46,"v":72},{"s":"b04","t":48,"v":75},{"s":"b04","t":50,"v":79},{"s":"b04","t":52,"v":82},{"s":"b04","t":54,"v":86},{"s":"b04","t":56,"v":89},{"s":"b04","t":58,"v":92},{"s":"b04","t":60,"v":96},{"s":"b04","t":62,"v":99},{"s":"b04","t":65,"v":102},{"s":"b04","t":69.8,"v":105.8},{"s":"b04","t":75,"v":110},{"s":"b04","t":80,"v":113},{"s":"b04","t":85,"v":114},{"s":"b04","t":90,"v":115},{"s":"b04","t":95,"v":115.5},{"s":"b04","t":104.7,"v":116},
{"s":"b05","t":0,"v":100},{"s":"b05","t":0.3,"v":41},{"s":"b05","t":0.6,"v":16},{"s":"b05","t":1,"v":9},{"s":"b05","t":1.5,"v":5},{"s":"b05","t":2,"v":2},{"s":"b05","t":2.5,"v":1},{"s":"b05","t":3,"v":1},{"s":"b05","t":4,"v":2},{"s":"b05","t":5,"v":3},{"s":"b05","t":6,"v":1},{"s":"b05","t":7,"v":2},{"s":"b05","t":8,"v":3.5},{"s":"b05","t":9,"v":2},{"s":"b05","t":10,"v":1},{"s":"b05","t":11,"v":3},{"s":"b05","t":12,"v":2},{"s":"b05","t":13,"v":1.5},{"s":"b05","t":14,"v":4},{"s":"b05","t":15,"v":2},{"s":"b05","t":16,"v":5},{"s":"b05","t":17,"v":3},{"s":"b05","t":18,"v":4},{"s":"b05","t":19,"v":6},{"s":"b05","t":20,"v":7},{"s":"b05","t":21,"v":9},{"s":"b05","t":22,"v":11},{"s":"b05","t":23,"v":13},{"s":"b05","t":24,"v":15},{"s":"b05","t":25,"v":17},{"s":"b05","t":26,"v":20},{"s":"b05","t":27,"v":24},{"s":"b05","t":28,"v":27},{"s":"b05","t":29,"v":29},{"s":"b05","t":30,"v":31},{"s":"b05","t":31,"v":34},{"s":"b05","t":32,"v":37},{"s":"b05","t":33,"v":40},{"s":"b05","t":34,"v":43},{"s":"b05","t":35,"v":47},{"s":"b05","t":36,"v":51},{"s":"b05","t":37,"v":54},{"s":"b05","t":38,"v":57},{"s":"b05","t":39,"v":60},{"s":"b05","t":40,"v":62},{"s":"b05","t":42,"v":67},{"s":"b05","t":44,"v":70},{"s":"b05","t":46,"v":75},{"s":"b05","t":48,"v":79},{"s":"b05","t":50,"v":82},{"s":"b05","t":52,"v":84},{"s":"b05","t":54,"v":88},{"s":"b05","t":56,"v":91},{"s":"b05","t":58,"v":94},{"s":"b05","t":60,"v":96},{"s":"b05","t":65,"v":100},{"s":"b05","t":69.8,"v":102.9},{"s":"b05","t":75,"v":105},{"s":"b05","t":80,"v":107},{"s":"b05","t":85.7,"v":107.5},{"s":"b05","t":90,"v":108.5},{"s":"b05","t":97.6,"v":109.3},{"s":"b05","t":128,"v":109.3},
{"s":"b06","t":0,"v":100},{"s":"b06","t":0.3,"v":37},{"s":"b06","t":0.6,"v":14},{"s":"b06","t":1,"v":8},{"s":"b06","t":1.5,"v":4},{"s":"b06","t":2,"v":1.5},{"s":"b06","t":2.5,"v":0.5},{"s":"b06","t":3,"v":2.5},{"s":"b06","t":4,"v":1},{"s":"b06","t":5,"v":2},{"s":"b06","t":6,"v":1},{"s":"b06","t":7,"v":6},{"s":"b06","t":8,"v":2},{"s":"b06","t":9,"v":1},{"s":"b06","t":10,"v":2},{"s":"b06","t":11,"v":1},{"s":"b06","t":12,"v":2},{"s":"b06","t":13,"v":1},{"s":"b06","t":14,"v":3},{"s":"b06","t":15,"v":2},{"s":"b06","t":16,"v":4},{"s":"b06","t":17,"v":3},{"s":"b06","t":18,"v":3},{"s":"b06","t":19,"v":4},{"s":"b06","t":20,"v":5},{"s":"b06","t":21,"v":7},{"s":"b06","t":22,"v":9},{"s":"b06","t":23,"v":11},{"s":"b06","t":24,"v":14},{"s":"b06","t":25,"v":16},{"s":"b06","t":26,"v":19},{"s":"b06","t":27,"v":22},{"s":"b06","t":28,"v":25},{"s":"b06","t":29,"v":29},{"s":"b06","t":30,"v":32},{"s":"b06","t":31,"v":35},{"s":"b06","t":32,"v":38},{"s":"b06","t":33,"v":40},{"s":"b06","t":34,"v":42},{"s":"b06","t":35,"v":45},{"s":"b06","t":36,"v":47},{"s":"b06","t":37,"v":50},{"s":"b06","t":38,"v":53},{"s":"b06","t":39,"v":55},{"s":"b06","t":40,"v":57},{"s":"b06","t":42,"v":61},{"s":"b06","t":44,"v":66},{"s":"b06","t":46,"v":70},{"s":"b06","t":48,"v":73},{"s":"b06","t":50,"v":76},{"s":"b06","t":52,"v":79},{"s":"b06","t":54,"v":83},{"s":"b06","t":56,"v":86},{"s":"b06","t":58,"v":90},{"s":"b06","t":60,"v":94},{"s":"b06","t":65,"v":99},{"s":"b06","t":69.8,"v":101.7},{"s":"b06","t":75,"v":103},{"s":"b06","t":80,"v":104.5},{"s":"b06","t":90,"v":106},{"s":"b06","t":100,"v":106.5},{"s":"b06","t":109.7,"v":107.3},
{"s":"b07","t":0,"v":100},{"s":"b07","t":0.3,"v":39},{"s":"b07","t":0.6,"v":15},{"s":"b07","t":1,"v":8},{"s":"b07","t":1.5,"v":4},{"s":"b07","t":2,"v":2},{"s":"b07","t":2.5,"v":1},{"s":"b07","t":3,"v":1.5},{"s":"b07","t":4,"v":3},{"s":"b07","t":5,"v":2},{"s":"b07","t":6,"v":1},{"s":"b07","t":7,"v":2},{"s":"b07","t":8,"v":1},{"s":"b07","t":9,"v":3},{"s":"b07","t":10,"v":2},{"s":"b07","t":11,"v":4},{"s":"b07","t":12,"v":1.5},{"s":"b07","t":13,"v":2},{"s":"b07","t":14,"v":1},{"s":"b07","t":15,"v":3},{"s":"b07","t":16,"v":2},{"s":"b07","t":17,"v":2},{"s":"b07","t":18,"v":2},{"s":"b07","t":19,"v":3},{"s":"b07","t":20,"v":4},{"s":"b07","t":21,"v":6},{"s":"b07","t":22,"v":8},{"s":"b07","t":23,"v":10},{"s":"b07","t":24,"v":12},{"s":"b07","t":25,"v":14},{"s":"b07","t":26,"v":17},{"s":"b07","t":27,"v":19},{"s":"b07","t":28,"v":22},{"s":"b07","t":29,"v":25},{"s":"b07","t":30,"v":28},{"s":"b07","t":31,"v":31},{"s":"b07","t":32,"v":35},{"s":"b07","t":33,"v":37},{"s":"b07","t":34,"v":40},{"s":"b07","t":35,"v":42},{"s":"b07","t":36,"v":45},{"s":"b07","t":37,"v":48},{"s":"b07","t":38,"v":51},{"s":"b07","t":39,"v":53},{"s":"b07","t":40,"v":55},{"s":"b07","t":42,"v":59},{"s":"b07","t":44,"v":64},{"s":"b07","t":46,"v":68},{"s":"b07","t":48,"v":72},{"s":"b07","t":50,"v":76},{"s":"b07","t":52,"v":80},{"s":"b07","t":54,"v":84},{"s":"b07","t":56,"v":87},{"s":"b07","t":58,"v":90},{"s":"b07","t":60,"v":92.7},{"s":"b07","t":65,"v":97},{"s":"b07","t":69.8,"v":100},{"s":"b07","t":75,"v":100},{"s":"b07","t":80,"v":100},{"s":"b07","t":90,"v":100},{"s":"b07","t":97,"v":100.3},{"s":"b07","t":110.9,"v":99.5},{"s":"b07","t":121.8,"v":103},
{"s":"b08","t":0,"v":100},{"s":"b08","t":0.3,"v":43},{"s":"b08","t":0.6,"v":17},{"s":"b08","t":1,"v":9},{"s":"b08","t":1.5,"v":5},{"s":"b08","t":2,"v":2},{"s":"b08","t":2.5,"v":1},{"s":"b08","t":3,"v":2},{"s":"b08","t":4,"v":1},{"s":"b08","t":5,"v":1.5},{"s":"b08","t":6,"v":3},{"s":"b08","t":7,"v":2},{"s":"b08","t":8,"v":4},{"s":"b08","t":9,"v":2},{"s":"b08","t":10,"v":5},{"s":"b08","t":11,"v":2},{"s":"b08","t":12,"v":3},{"s":"b08","t":13,"v":6},{"s":"b08","t":14,"v":4},{"s":"b08","t":15,"v":7},{"s":"b08","t":16,"v":15},{"s":"b08","t":17,"v":9},{"s":"b08","t":18,"v":6},{"s":"b08","t":19,"v":8},{"s":"b08","t":20,"v":9},{"s":"b08","t":21,"v":11},{"s":"b08","t":22,"v":13},{"s":"b08","t":23,"v":15},{"s":"b08","t":24,"v":17},{"s":"b08","t":25,"v":19},{"s":"b08","t":26,"v":21},{"s":"b08","t":27,"v":24},{"s":"b08","t":28,"v":26},{"s":"b08","t":29,"v":28},{"s":"b08","t":30,"v":30},{"s":"b08","t":31,"v":33},{"s":"b08","t":32,"v":36},{"s":"b08","t":33,"v":38},{"s":"b08","t":34,"v":41},{"s":"b08","t":35,"v":44},{"s":"b08","t":36,"v":46},{"s":"b08","t":37,"v":48},{"s":"b08","t":38,"v":50},{"s":"b08","t":39,"v":53},{"s":"b08","t":40,"v":56},{"s":"b08","t":42,"v":60},{"s":"b08","t":44,"v":65},{"s":"b08","t":46,"v":70},{"s":"b08","t":48,"v":75},{"s":"b08","t":50,"v":80},{"s":"b08","t":52,"v":84},{"s":"b08","t":54,"v":88},{"s":"b08","t":56,"v":92},{"s":"b08","t":58,"v":95},{"s":"b08","t":60,"v":97},{"s":"b08","t":62,"v":99},{"s":"b08","t":65,"v":100},{"s":"b08","t":69.8,"v":98.2},{"s":"b08","t":75,"v":103},{"s":"b08","t":80,"v":106},{"s":"b08","t":85,"v":107},{"s":"b08","t":95,"v":108},{"s":"b08","t":108,"v":108.7},
{"s":"b09","t":0,"v":100},{"s":"b09","t":0.3,"v":40},{"s":"b09","t":0.6,"v":15},{"s":"b09","t":1,"v":8},{"s":"b09","t":1.5,"v":4.5},{"s":"b09","t":2,"v":2},{"s":"b09","t":2.5,"v":1},{"s":"b09","t":3,"v":1},{"s":"b09","t":4,"v":2},{"s":"b09","t":5,"v":1},{"s":"b09","t":6,"v":2.5},{"s":"b09","t":7,"v":1.5},{"s":"b09","t":8,"v":3},{"s":"b09","t":9,"v":1},{"s":"b09","t":10,"v":2},{"s":"b09","t":11,"v":3},{"s":"b09","t":12,"v":5},{"s":"b09","t":13,"v":3},{"s":"b09","t":14,"v":6},{"s":"b09","t":15,"v":8},{"s":"b09","t":16,"v":5},{"s":"b09","t":17,"v":9},{"s":"b09","t":18,"v":12},{"s":"b09","t":19,"v":16},{"s":"b09","t":20.2,"v":18.6},{"s":"b09","t":21.2,"v":25.6},{"s":"b09","t":22,"v":26},{"s":"b09","t":23.5,"v":30.8},{"s":"b09","t":24.5,"v":32},{"s":"b09","t":25.4,"v":34.9},{"s":"b09","t":26.5,"v":40},{"s":"b09","t":27.4,"v":44.3},{"s":"b09","t":28.9,"v":50.8},{"s":"b09","t":30,"v":52},{"s":"b09","t":31,"v":55},{"s":"b09","t":32,"v":60.1},{"s":"b09","t":33.2,"v":64.3},{"s":"b09","t":34.3,"v":67.2},{"s":"b09","t":35.1,"v":67.2},{"s":"b09","t":36.6,"v":72.5},{"s":"b09","t":37.4,"v":78.3},{"s":"b09","t":38.5,"v":79},{"s":"b09","t":40.1,"v":81.3},{"s":"b09","t":41.5,"v":84},{"s":"b09","t":43.2,"v":87.7},{"s":"b09","t":45,"v":90},{"s":"b09","t":46.7,"v":91.8},{"s":"b09","t":49.8,"v":94.7},{"s":"b09","t":52,"v":97},{"s":"b09","t":54.4,"v":98.8},{"s":"b09","t":57.5,"v":98.8},{"s":"b09","t":60.2,"v":97.5},{"s":"b09","t":65,"v":98},{"s":"b09","t":69.8,"v":98.2},{"s":"b09","t":80,"v":100},{"s":"b09","t":90,"v":100.5},{"s":"b09","t":100,"v":101},
{"s":"b10","t":0,"v":100},{"s":"b10","t":0.3,"v":37},{"s":"b10","t":0.6,"v":14},{"s":"b10","t":1,"v":7},{"s":"b10","t":1.5,"v":3.5},{"s":"b10","t":2,"v":1.5},{"s":"b10","t":2.5,"v":0.5},{"s":"b10","t":3,"v":1.5},{"s":"b10","t":4,"v":1},{"s":"b10","t":5,"v":3},{"s":"b10","t":6,"v":2},{"s":"b10","t":7,"v":1},{"s":"b10","t":8,"v":2},{"s":"b10","t":9,"v":4},{"s":"b10","t":10,"v":2},{"s":"b10","t":11,"v":1},{"s":"b10","t":12,"v":3},{"s":"b10","t":13,"v":2},{"s":"b10","t":14,"v":4},{"s":"b10","t":15,"v":5},{"s":"b10","t":16,"v":7},{"s":"b10","t":17,"v":6},{"s":"b10","t":18,"v":8},{"s":"b10","t":19,"v":10},{"s":"b10","t":20,"v":12},{"s":"b10","t":21,"v":14},{"s":"b10","t":22,"v":18},{"s":"b10","t":23,"v":22},{"s":"b10","t":24,"v":26},{"s":"b10","t":25,"v":29},{"s":"b10","t":26,"v":33},{"s":"b10","t":27,"v":36},{"s":"b10","t":28,"v":41},{"s":"b10","t":29,"v":43},{"s":"b10","t":30,"v":47},{"s":"b10","t":31,"v":50},{"s":"b10","t":32,"v":52},{"s":"b10","t":33.4,"v":58},{"s":"b10","t":35.1,"v":64.3},{"s":"b10","t":36.5,"v":68},{"s":"b10","t":37.8,"v":72},{"s":"b10","t":39,"v":76},{"s":"b10","t":40.1,"v":80},{"s":"b10","t":41.5,"v":82},{"s":"b10","t":43.2,"v":84.2},{"s":"b10","t":45,"v":85},{"s":"b10","t":47,"v":81},{"s":"b10","t":49,"v":83},{"s":"b10","t":52,"v":85},{"s":"b10","t":55,"v":86},{"s":"b10","t":58,"v":87},{"s":"b10","t":60.2,"v":88},{"s":"b10","t":65,"v":88.5},{"s":"b10","t":68.3,"v":89.4},{"s":"b10","t":74.7,"v":90.5},{"s":"b10","t":78.9,"v":92},
{"s":"b11","t":0,"v":100},{"s":"b11","t":0.3,"v":40},{"s":"b11","t":0.6,"v":15},{"s":"b11","t":1,"v":8},{"s":"b11","t":1.5,"v":4},{"s":"b11","t":2,"v":1.5},{"s":"b11","t":2.5,"v":0.5},{"s":"b11","t":3,"v":1},{"s":"b11","t":4,"v":1.5},{"s":"b11","t":5,"v":1},{"s":"b11","t":6,"v":2},{"s":"b11","t":7,"v":1},{"s":"b11","t":8,"v":1.5},{"s":"b11","t":9,"v":1},{"s":"b11","t":10,"v":2},{"s":"b11","t":11,"v":1},{"s":"b11","t":12,"v":1.5},{"s":"b11","t":13,"v":1},{"s":"b11","t":14,"v":2},{"s":"b11","t":15,"v":1},{"s":"b11","t":16,"v":1.5},{"s":"b11","t":17,"v":2},{"s":"b11","t":18,"v":2},{"s":"b11","t":19,"v":3},{"s":"b11","t":20,"v":4},{"s":"b11","t":20.7,"v":4.7},{"s":"b11","t":21.5,"v":8},{"s":"b11","t":22.6,"v":11},{"s":"b11","t":23.5,"v":9},{"s":"b11","t":24.9,"v":12.5},{"s":"b11","t":26,"v":14},{"s":"b11","t":27,"v":16},{"s":"b11","t":28.5,"v":15.5},{"s":"b11","t":29.5,"v":18.6},{"s":"b11","t":30.9,"v":26},{"s":"b11","t":31.9,"v":33.4},{"s":"b11","t":32.9,"v":42.2},{"s":"b11","t":34.3,"v":47.2},{"s":"b11","t":35.5,"v":49},{"s":"b11","t":37.3,"v":53.5},{"s":"b11","t":39.7,"v":55},{"s":"b11","t":42.1,"v":58.5},{"s":"b11","t":43.5,"v":62},{"s":"b11","t":45.5,"v":66},{"s":"b11","t":47,"v":65.8},{"s":"b11","t":49.4,"v":64},{"s":"b11","t":51.4,"v":64.7},{"s":"b11","t":54.3,"v":67.2},{"s":"b11","t":56.7,"v":68.6},{"s":"b11","t":60.2,"v":71},{"s":"b11","t":63.6,"v":77.2},{"s":"b11","t":66,"v":75.2},{"s":"b11","t":68,"v":76.5},{"s":"b11","t":70.1,"v":78.9},{"s":"b11","t":71,"v":82.3},{"s":"b11","t":75,"v":82.5},{"s":"b11","t":80,"v":83},{"s":"b11","t":90,"v":84},{"s":"b11","t":103.5,"v":85}
]
},
"spacing": 27,
"resolve": {"scale": {"color": "independent"}, "legend": {"color": "independent"}},
"vconcat": [
  {
    "title": {"text": "(a)", "font": "Liberation Serif", "fontSize": 33, "fontWeight": "bold", "color": "#111111", "anchor": "start", "dx": 31, "offset": 8},
    "spacing": 1,
    "resolve": {"scale": {"color": "independent"}, "legend": {"color": "independent"}},
    "vconcat": [
      {
        "spacing": 6,
        "resolve": {"scale": {"color": "independent"}, "legend": {"color": "independent"}},
        "vconcat": [
          {
            "width": 1294, "height": 28,
            "view": {"fill": {"gradient": "linear", "x1": 0, "y1": 0, "x2": 0, "y2": 1, "stops": [{"offset": 0, "color": "#6e6e6e"}, {"offset": 1, "color": "#3b3b3b"}]}, "stroke": null},
            "title": {"text": "Concentration Graph", "orient": "top", "anchor": "start", "offset": -23, "dx": 6, "color": "#f4f4f4", "font": "DejaVu Sans", "fontSize": 15.5, "fontWeight": "normal"},
            "data": {"values": [{"k": 1}]},
            "mark": {"type": "text", "text": ""}
          },
          {
            "spacing": 4,
            "bounds": "flush",
            "resolve": {"scale": {"color": "independent"}, "legend": {"color": "independent"}},
            "hconcat": [
              {"width": 39, "height": 398, "data": {"values": [{"k": 1}]}, "mark": {"type": "text", "text": ""}},
              {
                "width": 1209, "height": 398,
                "view": {"fill": {"gradient": "linear", "x1": 0, "y1": 0, "x2": 0, "y2": 1, "stops": [{"offset": 0, "color": "#fdfdfd"}, {"offset": 1, "color": "#d9dde2"}]}, "stroke": "#c6c6c6"},
                "data": {"name": "a"},
                "mark": {"type": "line", "strokeWidth": 2.4},
                "encoding": {
                  "x": {"field": "t", "type": "quantitative", "scale": {"domain": [0, 120], "nice": false, "zero": false}, "axis": {"title": null, "values": [0, 20, 40, 60, 80, 100, 120]}},
                  "y": {"field": "v", "type": "quantitative", "scale": {"domain": [0, 100], "nice": false}, "axis": {"title": null, "values": [0, 10, 20, 30, 40, 50, 60, 70, 80, 90, 100]}},
                  "color": {"field": "s", "type": "nominal", "scale": {"range": ["#2f7a8a", "#3a8c9c", "#34828f", "#3f93a3", "#2d7383", "#3a8a9a", "#35818f", "#4196a6", "#30798a", "#3b8e9e", "#2e7585"]},
                    "legend": {"title": "Legend", "orient": "top-right", "offset": 20, "labelExpr": "'ATP'", "titleFont": "DejaVu Sans", "titleFontSize": 15, "titleFontWeight": "normal", "titleColor": "#333333", "labelFont": "DejaVu Sans", "labelFontSize": 15, "labelColor": "#333333", "symbolType": "stroke", "symbolStrokeWidth": 2.5, "symbolSize": 576, "symbolOffset": 4, "rowPadding": 4, "padding": 12, "titlePadding": 8, "fillColor": "#f7f8f9", "strokeColor": "#b9b9b9", "cornerRadius": 5, "labelOffset": 3}}
                }
              },
              {"width": 25, "height": 398, "view": {"fill": {"gradient": "linear", "x1": 0, "y1": 0, "x2": 1, "y2": 0, "stops": [{"offset": 0, "color": "#f3f4f6"}, {"offset": 1, "color": "#e2e5e8"}]}, "stroke": "#c9cdd2", "cornerRadius": 3}, "data": {"values": [{"k": 1}]}, "mark": {"type": "text", "text": ""}}
            ]
          }
        ]
      },
      {
        "spacing": 4,
        "bounds": "flush",
        "hconcat": [
          {"width": 39, "height": 27, "data": {"values": [{"k": 1}]}, "mark": {"type": "text", "text": ""}},
          {"width": 1209, "height": 27, "view": {"fill": {"gradient": "linear", "x1": 0, "y1": 0, "x2": 0, "y2": 1, "stops": [{"offset": 0, "color": "#f6f7f8"}, {"offset": 1, "color": "#e1e4e7"}]}, "stroke": "#c9cdd2", "cornerRadius": 3}, "data": {"values": [{"k": 1}]}, "mark": {"type": "text", "text": ""}}
        ]
      }
    ]
  },
  {
    "title": {"text": "(b)", "font": "Liberation Serif", "fontSize": 33, "fontWeight": "bold", "color": "#111111", "anchor": "start", "dx": 33, "offset": 8},
    "spacing": 1,
    "resolve": {"scale": {"color": "independent"}, "legend": {"color": "independent"}},
    "vconcat": [
      {
        "spacing": 6,
        "resolve": {"scale": {"color": "independent"}, "legend": {"color": "independent"}},
        "vconcat": [
          {
            "width": 1294, "height": 28,
            "view": {"fill": {"gradient": "linear", "x1": 0, "y1": 0, "x2": 0, "y2": 1, "stops": [{"offset": 0, "color": "#6e6e6e"}, {"offset": 1, "color": "#3b3b3b"}]}, "stroke": null},
            "title": {"text": "Concentration Graph", "orient": "top", "anchor": "start", "offset": -23, "dx": 8, "color": "#f4f4f4", "font": "DejaVu Sans", "fontSize": 15.5, "fontWeight": "normal"},
            "data": {"values": [{"k": 1}]},
            "mark": {"type": "text", "text": ""}
          },
          {
            "spacing": 4,
            "bounds": "flush",
            "resolve": {"scale": {"color": "independent"}, "legend": {"color": "independent"}},
            "hconcat": [
              {"width": 39, "height": 398, "data": {"values": [{"k": 1}]}, "mark": {"type": "text", "text": ""}},
              {
                "width": 1209, "height": 398,
                "view": {"fill": {"gradient": "linear", "x1": 0, "y1": 0, "x2": 0, "y2": 1, "stops": [{"offset": 0, "color": "#fdfdfd"}, {"offset": 1, "color": "#d9dde2"}]}, "stroke": "#c6c6c6"},
                "data": {"name": "b"},
                "mark": {"type": "line", "strokeWidth": 2.4},
                "encoding": {
                  "x": {"field": "t", "type": "quantitative", "scale": {"domain": [0, 140], "nice": false, "zero": false}, "axis": {"title": null, "values": [0, 20, 40, 60, 80, 100, 120, 140]}},
                  "y": {"field": "v", "type": "quantitative", "scale": {"domain": [0, 140], "nice": false}, "axis": {"title": null, "values": [0, 20, 40, 60, 80, 100, 120, 140]}},
                  "color": {"field": "s", "type": "nominal", "scale": {"range": ["#2f7a8a", "#3a8c9c", "#34828f", "#3f93a3", "#2d7383", "#3a8a9a", "#35818f", "#4196a6", "#30798a", "#3b8e9e", "#2e7585"]},
                    "legend": {"title": "Legend", "orient": "top-right", "offset": 20, "labelExpr": "'ATP'", "titleFont": "DejaVu Sans", "titleFontSize": 15, "titleFontWeight": "normal", "titleColor": "#333333", "labelFont": "DejaVu Sans", "labelFontSize": 15, "labelColor": "#333333", "symbolType": "stroke", "symbolStrokeWidth": 2.5, "symbolSize": 576, "symbolOffset": 4, "rowPadding": 4, "padding": 12, "titlePadding": 8, "fillColor": "#f7f8f9", "strokeColor": "#b9b9b9", "cornerRadius": 5, "labelOffset": 3}}
                }
              },
              {"width": 25, "height": 398, "view": {"fill": {"gradient": "linear", "x1": 0, "y1": 0, "x2": 1, "y2": 0, "stops": [{"offset": 0, "color": "#f3f4f6"}, {"offset": 1, "color": "#e2e5e8"}]}, "stroke": "#c9cdd2", "cornerRadius": 3}, "data": {"values": [{"k": 1}]}, "mark": {"type": "text", "text": ""}}
            ]
          }
        ]
      },
      {
        "spacing": 4,
        "bounds": "flush",
        "hconcat": [
          {"width": 39, "height": 27, "data": {"values": [{"k": 1}]}, "mark": {"type": "text", "text": ""}},
          {"width": 1209, "height": 27, "view": {"fill": {"gradient": "linear", "x1": 0, "y1": 0, "x2": 0, "y2": 1, "stops": [{"offset": 0, "color": "#f6f7f8"}, {"offset": 1, "color": "#e1e4e7"}]}, "stroke": "#c9cdd2", "cornerRadius": 3}, "data": {"values": [{"k": 1}]}, "mark": {"type": "text", "text": ""}}
        ]
      }
    ]
  }
]
}
